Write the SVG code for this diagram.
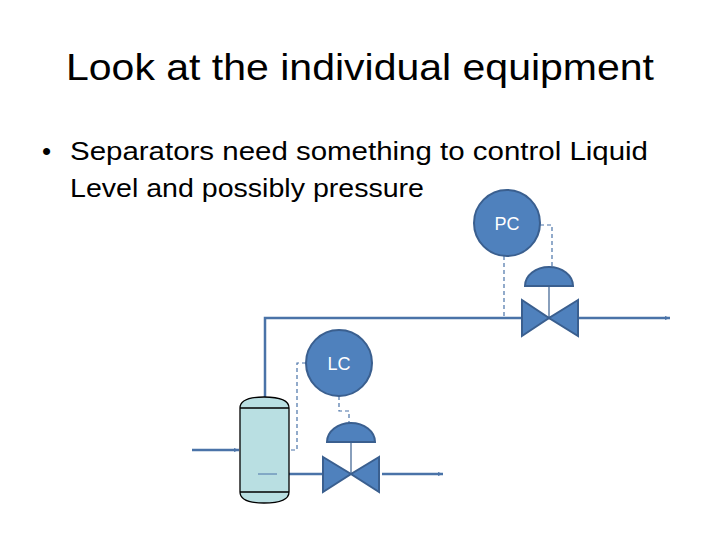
<svg xmlns="http://www.w3.org/2000/svg" width="720" height="540" viewBox="0 0 720 540">
<style>
.t{font-family:"Liberation Sans",Arial,sans-serif;fill:#000}
.pipe{stroke:#4a73a8;stroke-width:2.5;fill:none}
.sig{stroke:#4a73a8;stroke-width:1.2;fill:none;stroke-dasharray:4,3}
.eq{fill:#4f81bd;stroke:#3a5f8f;stroke-width:2}
.ct{font-family:"Liberation Sans",Arial,sans-serif;fill:#fff;font-size:18px;text-anchor:middle}
</style>
<defs><marker id="a" markerWidth="6" markerHeight="6" refX="5" refY="3" orient="auto" markerUnits="userSpaceOnUse"><path d="M0,1 L5,3 L0,5z" fill="#4a73a8"/></marker></defs>
<text class="t" x="360" y="80" font-size="36" text-anchor="middle" textLength="588" lengthAdjust="spacingAndGlyphs">Look at the individual equipment</text>
<text class="t" x="42" y="160" font-size="26">•</text>
<text class="t" x="70" y="160" font-size="26" textLength="578" lengthAdjust="spacingAndGlyphs">Separators need something to control Liquid</text>
<text class="t" x="70" y="197" font-size="26" textLength="354" lengthAdjust="spacingAndGlyphs">Level and possibly pressure</text>
<g id="connectors">
<path class="pipe" d="M265,397 V318 H670" marker-end="url(#a)"/>
<path class="pipe" d="M192,450 H239" marker-end="url(#a)"/>
<path class="pipe" d="M289,474 H323 M382,474 H443" marker-end="url(#a)"/>
<path class="sig" d="M306,363 H297 V450 H289"/>
<path class="sig" d="M339,396 V411 H349 V423"/>
<path class="sig" d="M540,225 H552 V267"/>
<path class="sig" d="M504,256 V318"/>
<path d="M351,442 V474 M549,286 V318" stroke="#3a5f8f" stroke-width="1.2"/>
</g>
<g id="separator">
<path d="M240,408 Q240,397 264,397 Q289,397 289,408 V492 Q289,503 264,503 Q240,503 240,492Z" fill="#b9dfe2" stroke="#000" stroke-width="1.3"/>
<path d="M240,408 H289 M240,492 H289" stroke="#000" stroke-width="1.3"/>
<path d="M258,474 H277" stroke="#4a73a8" stroke-width="1"/>
</g>
<g id="LC"><circle class="eq" cx="339" cy="363" r="33"/><text class="ct" x="339" y="370">LC</text></g>
<g id="lc-valve">
<path class="eq" d="M327,442 A24,19 0 0 1 375,442Z"/>
<path class="eq" d="M323,457 L351,474 L323,492Z M379,457 L351,474 L379,492Z"/>
</g>
<g id="PC"><circle class="eq" cx="507" cy="223" r="33"/><text class="ct" x="507" y="230">PC</text></g>
<g id="pc-valve">
<path class="eq" d="M525,286 A24,19 0 0 1 573,286Z"/>
<path class="eq" d="M522,300 L549,318 L522,336Z M578,300 L549,318 L578,336Z"/>
</g>
</svg>
